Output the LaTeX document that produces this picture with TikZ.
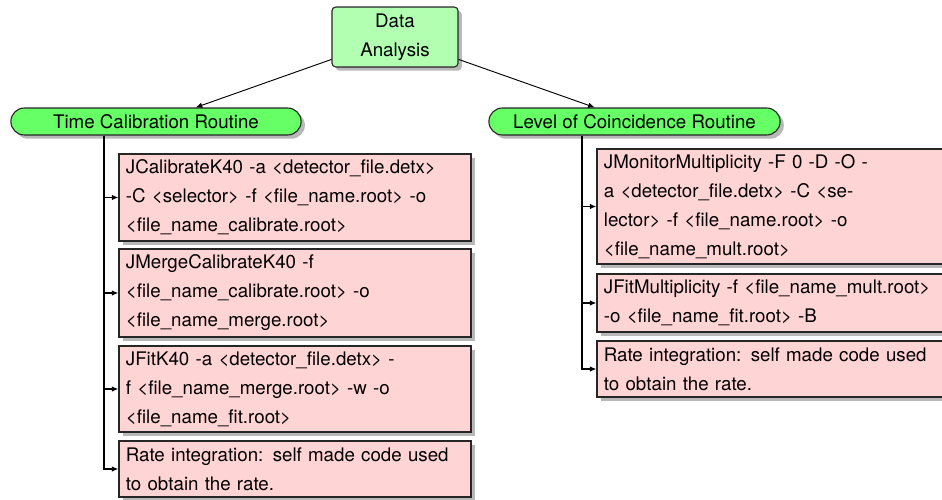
\documentclass[tikz,border=0pt]{standalone}
\usepackage{fontspec}
\setmainfont{TeX Gyre Heros}
\usetikzlibrary{shapes.misc,shadows,arrows.meta}
\begin{document}
\begin{tikzpicture}[x=0.534pt,y=-0.534pt]
\tikzset{
 base/.style={draw=black!85, line width=0.6pt, font=\fontsize{10}{15.5}\selectfont,
   drop shadow={shadow xshift=2pt, shadow yshift=-2pt, fill=black!28, opacity=1}},
 topbox/.style={base, fill=green!30, rounded corners=2pt, align=center,
   minimum width=67.3pt, minimum height=32pt, inner sep=2pt},
 routebox/.style={base, rounded rectangle, fill=green!60, minimum width=157pt,
   minimum height=14.4pt, inner sep=1pt},
 cmdbox/.style={base, fill=red!17, text width=180.6pt, align=left,
   minimum height=#1, inner xsep=3.7pt, inner ysep=1.5pt},
 conn/.style={line width=0.5pt, -{Latex[length=3.5pt,width=3pt]}},
 trunk/.style={line width=0.7pt, -{Latex[length=3.5pt,width=3pt]}},
}
\useasboundingbox (0,0) rectangle (942,500);

\node[topbox] (DA) at (395,37) {Data\\Analysis};
\node[routebox] (T) at (156,121.5) {Time Calibration Routine};
\node[routebox, minimum width=157.5pt] (LC) at (634.5,121.5) {Level of Coincidence Routine};

\node[cmdbox=46.5pt] (L1) at (295,197.5) {JCalibrateK40 -a <detector\_file.detx>\\-C <selector> -f <file\_name.root> -o\\<file\_name\_calibrate.root>};
\node[cmdbox=47pt] (L2) at (295,293) {JMergeCalibrateK40 -f\\<file\_name\_calibrate.root> -o\\<file\_name\_merge.root>};
\node[cmdbox=45.9pt] (L3) at (295,389) {JFitK40 -a <detector\_file.detx> -\\f <file\_name\_merge.root> -w -o\\<file\_name\_fit.root>};
\node[cmdbox=29.9pt] (L4) at (295,469) {Rate integration: self made code used\\to obtain the rate.};

\node[cmdbox=61.4pt] (R1) at (773,206.5) {JMonitorMultiplicity -F 0 -D -O -\\a <detector\_file.detx> -C <se-\\lector> -f <file\_name.root> -o\\<file\_name\_mult.root>};
\node[cmdbox=31pt] (R2) at (773,303) {JFitMultiplicity -f <file\_name\_mult.root>\\-o <file\_name\_fit.root> -B};
\node[cmdbox=29.9pt] (R3) at (773,369) {Rate integration: self made code used\\to obtain the rate.};

\draw[conn] (DA) -- (T);
\draw[conn] (DA) -- (LC);

\coordinate (tA) at ([xshift=-27.8pt]T.south);
\coordinate (tB) at ([xshift=-28.0pt]LC.south);
\draw[trunk] (tA) |- (L1.west);
\draw[trunk] (tA) |- (L2.west);
\draw[trunk] (tA) |- (L3.west);
\draw[trunk] (tA) |- (L4.west);
\draw[trunk] (tB) |- (R1.west);
\draw[trunk] (tB) |- (R2.west);
\draw[trunk] (tB) |- (R3.west);
\end{tikzpicture}
\end{document}
